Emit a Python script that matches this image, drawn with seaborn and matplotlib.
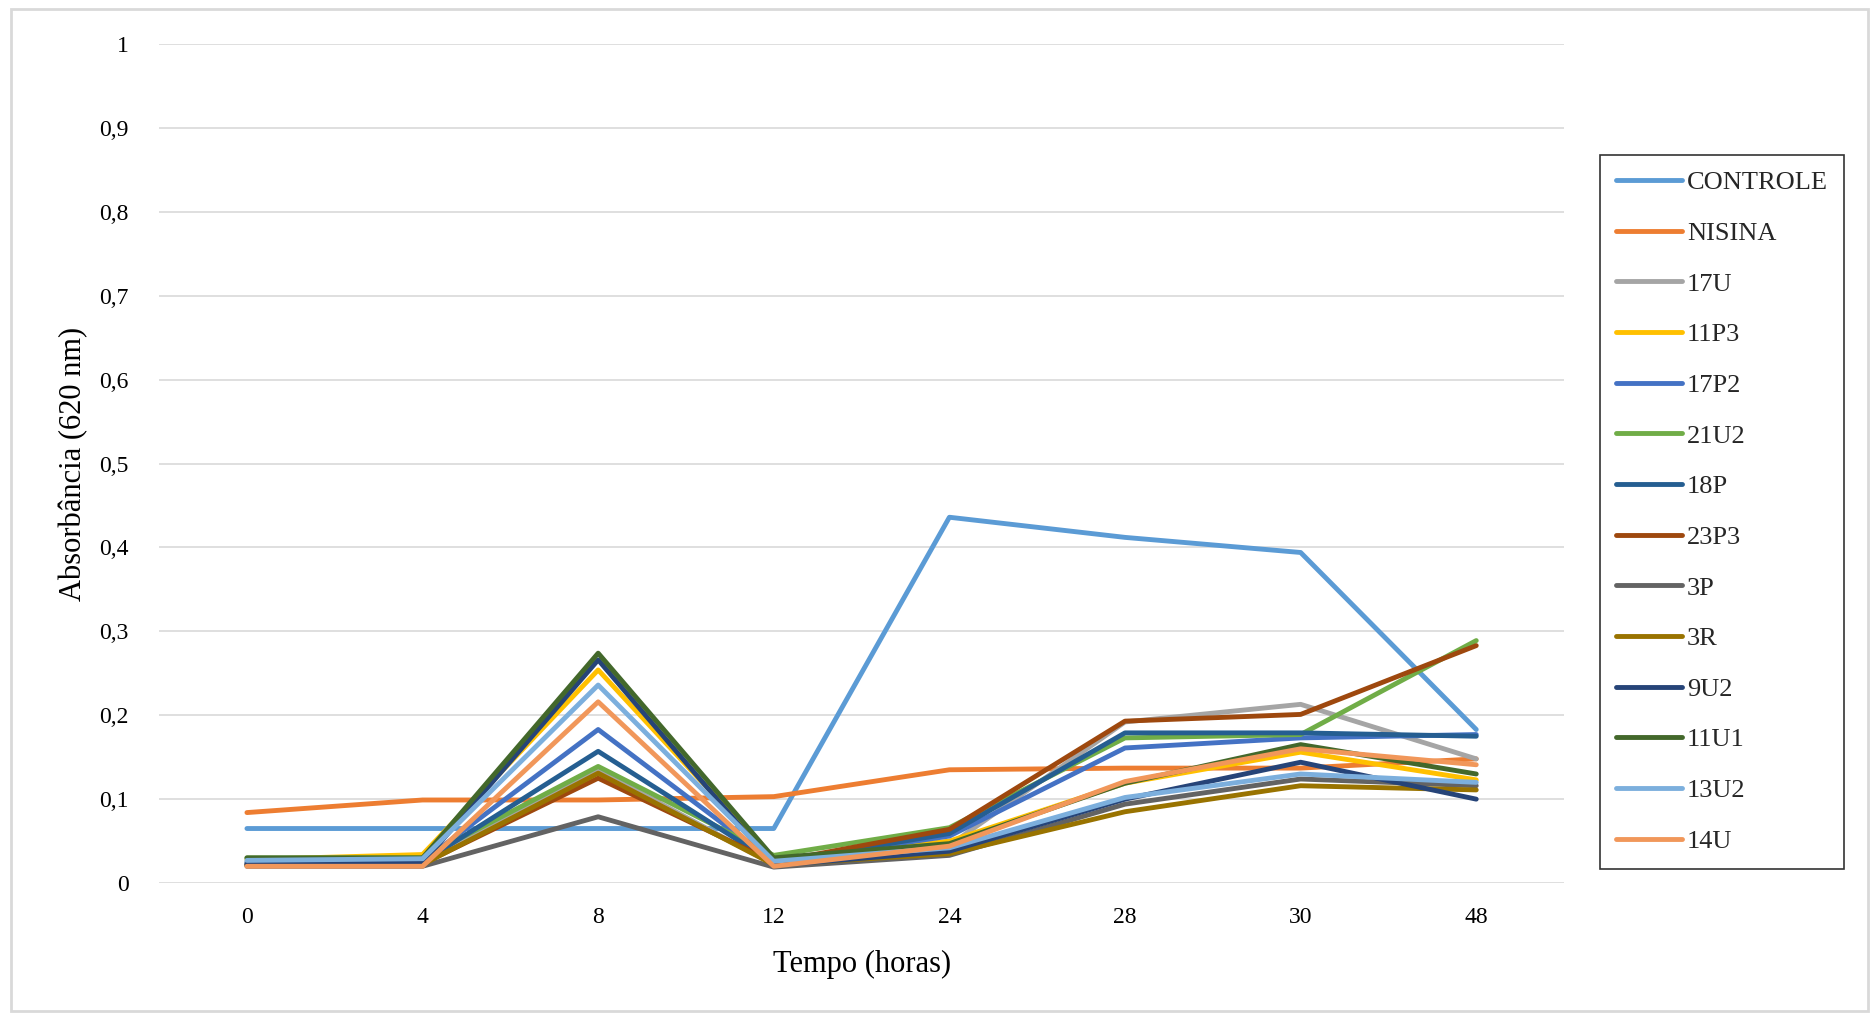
import matplotlib
matplotlib.use("Agg")
import matplotlib.pyplot as plt
import seaborn as sns
import pandas as pd
from matplotlib.patches import Rectangle
from matplotlib.lines import Line2D

sns.set_theme(style="white")
plt.rcParams['font.family'] = ['Liberation Serif', 'DejaVu Serif']

tempo = ["0", "4", "8", "12", "24", "28", "30", "48"]

controle = [0.065, 0.065, 0.065, 0.065, 0.436, 0.412, 0.394, 0.183]
nisina = [0.084, 0.099, 0.099, 0.103, 0.135, 0.137, 0.137, 0.148]
s17u = [0.024, 0.025, 0.135, 0.022, 0.045, 0.192, 0.213, 0.148]
s11p3 = [0.028, 0.034, 0.254, 0.028, 0.050, 0.119, 0.156, 0.123]
s17p2 = [0.025, 0.026, 0.183, 0.025, 0.056, 0.161, 0.173, 0.177]
s21u2 = [0.030, 0.030, 0.139, 0.033, 0.066, 0.173, 0.177, 0.289]
s18p = [0.023, 0.025, 0.157, 0.024, 0.059, 0.179, 0.179, 0.175]
s23p3 = [0.022, 0.023, 0.125, 0.025, 0.064, 0.193, 0.201, 0.283]
s3p = [0.020, 0.020, 0.079, 0.019, 0.033, 0.094, 0.124, 0.116]
s3r = [0.021, 0.022, 0.131, 0.022, 0.035, 0.085, 0.116, 0.111]
s9u2 = [0.022, 0.024, 0.266, 0.021, 0.038, 0.100, 0.144, 0.100]
s11u1 = [0.030, 0.030, 0.274, 0.030, 0.047, 0.119, 0.165, 0.130]
s13u2 = [0.027, 0.029, 0.236, 0.026, 0.042, 0.102, 0.130, 0.120]
s14u = [0.020, 0.020, 0.216, 0.020, 0.044, 0.121, 0.160, 0.141]

series_names = ["CONTROLE", "NISINA", "17U", "11P3", "17P2", "21U2", "18P",
                "23P3", "3P", "3R", "9U2", "11U1", "13U2", "14U"]
series_values = [controle, nisina, s17u, s11p3, s17p2, s21u2, s18p,
                 s23p3, s3p, s3r, s9u2, s11u1, s13u2, s14u]
colors = ["#5B9BD5", "#ED7D31", "#A5A5A5", "#FFC000", "#4472C4", "#70AD47",
          "#255E91", "#9E480E", "#636363", "#997300", "#264478", "#43682B",
          "#7CAFDD", "#F1975A"]

rows = []
for name, vals in zip(series_names, series_values):
    for t, v in zip(tempo, vals):
        rows.append({"Tempo": t, "Absorbancia": v, "Serie": name})
df = pd.DataFrame(rows)

fig = plt.figure(figsize=(18.72, 10.15), dpi=100)
ax = fig.add_axes([0.085, 0.130, 0.7505, 0.8266])

palette = dict(zip(series_names, colors))
sns.lineplot(data=df, x="Tempo", y="Absorbancia", hue="Serie",
             hue_order=series_names, palette=palette, sort=False,
             linewidth=3.5, legend=False, ax=ax)

ax.set_xlim(-0.5, 7.5)
ax.set_ylim(0, 1)
yt = [i / 10 for i in range(11)]
ax.set_yticks(yt)
ax.set_yticklabels(["0" if v == 0 else ("1" if v == 1 else f"{v:.1f}".replace(".", ",")) for v in yt])
ax.set_xticks(range(len(tempo)))
ax.set_xticklabels(tempo)
ax.tick_params(axis="both", length=0, labelsize=17, colors="black")
ax.tick_params(axis="y", pad=22)
ax.tick_params(axis="x", pad=17)
ax.grid(axis="y", color="#D9D9D9", linewidth=1.2)
ax.set_axisbelow(True)
for s in ax.spines.values():
    s.set_visible(False)

ax.set_xlabel("Tempo (horas)", fontsize=22, labelpad=16, color="black")
ax.set_ylabel("Absorbância (620 nm)", fontsize=22, labelpad=8, color="black")

handles = [Line2D([0], [0], color=c, lw=3.5, solid_capstyle="round") for c in colors]
leg = fig.legend(handles, series_names, loc="upper left",
                 bbox_to_anchor=(0.8547, 0.8473), fontsize=19,
                 frameon=True, fancybox=False, edgecolor="black",
                 handlelength=2.5, handletextpad=0.2, labelspacing=1.03,
                 borderpad=0.6, borderaxespad=0)
leg.get_frame().set_linewidth(1.2)

fig.patches.append(Rectangle((0.006, 0.004), 0.992, 0.987, transform=fig.transFigure,
                             fill=False, edgecolor="#D9D9D9", linewidth=2))

fig.savefig("out.png", dpi=100)
